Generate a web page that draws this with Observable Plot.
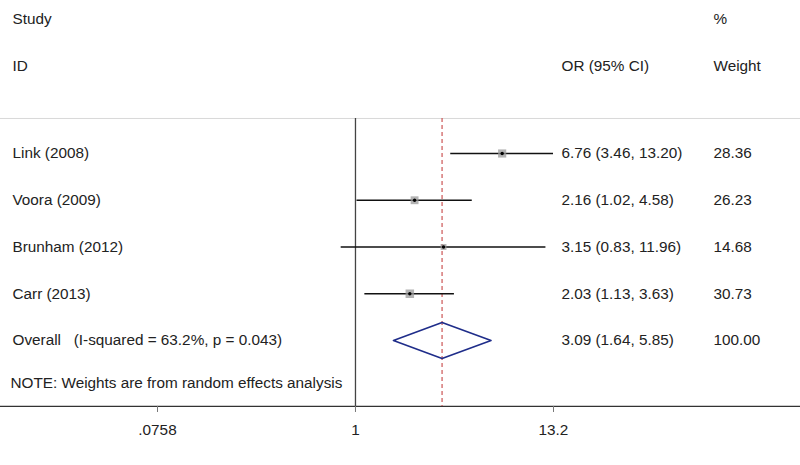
<!DOCTYPE html>
<html>
<head>
<meta charset="utf-8">
<script src="https://cdn.jsdelivr.net/npm/d3@7"></script>
<script src="https://cdn.jsdelivr.net/npm/@observablehq/plot@0.6"></script>
<style>
  html, body { margin: 0; padding: 0; background: #fff; }
  #chart svg { display: block; }
</style>
</head>
<body>
<div id="chart"></div>
<script>
// ---- data ----
const studies = ["Link (2008)", "Voora (2009)", "Brunham (2012)", "Carr (2013)"];
const orValues = [6.76, 2.16, 3.15, 2.03];
const ciLow = [3.46, 1.02, 0.83, 1.13];
const ciHigh = [13.20, 4.58, 11.96, 3.63];
const weights = [28.36, 26.23, 14.68, 30.73];
const overallLabel = "Overall\u00a0\u00a0 (I-squared = 63.2%, p = 0.043)";
const overallOR = 3.09;
const overallLow = 1.64;
const overallHigh = 5.85;
const overallWeight = 100.00;
const noteText = "NOTE: Weights are from random effects analysis";
const tickValues = [0.0758, 1, 13.2];
const tickLabels = [".0758", "1", "13.2"];

// ---- tables built from the arrays ----
const rows = studies.map((s, i) => ({
  row: i + 1,
  label: s,
  or: orValues[i],
  lo: ciLow[i],
  hi: ciHigh[i],
  weight: weights[i],
  orText: `${orValues[i].toFixed(2)} (${ciLow[i].toFixed(2)}, ${ciHigh[i].toFixed(2)})`,
  wText: weights[i].toFixed(2)
}));
const overallRow = {
  row: studies.length + 1,
  label: overallLabel,
  orText: `${overallOR.toFixed(2)} (${overallLow.toFixed(2)}, ${overallHigh.toFixed(2)})`,
  wText: overallWeight.toFixed(2)
};
const textRows = [...rows, overallRow];
const dh = 0.385; // diamond half-height in row units
const diamond = [
  {x: overallLow, y: overallRow.row},
  {x: overallOR, y: overallRow.row - dh},
  {x: overallHigh, y: overallRow.row},
  {x: overallOR, y: overallRow.row + dh},
  {x: overallLow, y: overallRow.row}
];
const ticks = tickValues.map((v, i) => ({v, label: tickLabels[i]}));

const yTop = 0.251, yBottom = 6.41, yNote = 5.92;
const txt = "#222";
const fs = 15.3;

const chart = Plot.plot({
  width: 800,
  height: 465,
  marginTop: 0,
  marginLeft: 0,
  marginRight: 0,
  marginBottom: 59,
  style: {fontFamily: "'Liberation Sans', Arial, sans-serif", fontSize: fs + "px", background: "#fff", color: txt},
  x: {type: "log", domain: [0.0758, 13.2], range: [157, 553], axis: null},
  y: {domain: [0, 6], range: [106.25, 386.75], axis: null},
  r: {domain: [0, 30.73], range: [0, 4.8]},
  marks: [
    // faint top border
    Plot.ruleY([yTop], {stroke: "#d8d8d8", strokeWidth: 1}),
    // axis line, ticks and tick labels
    Plot.ruleY([yBottom], {stroke: "#333", strokeWidth: 1.2}),
    Plot.ruleX(ticks, {x: "v", y1: yBottom, y2: yBottom + 0.13, stroke: "#777"}),
    Plot.text(ticks, {x: "v", y: yBottom + 0.5, text: "label", fill: txt}),
    // null line
    Plot.ruleX([1], {y1: yTop, y2: yBottom, stroke: "#444", strokeWidth: 1.3}),
    // overall dashed line
    Plot.ruleX([overallOR], {y1: yTop, y2: yBottom, stroke: "#cc5555", strokeWidth: 1.2, strokeDasharray: "4,3"}),
    // CIs
    Plot.ruleY(rows, {y: "row", x1: "lo", x2: "hi", stroke: "#111", strokeWidth: 1.3}),
    // weight squares
    Plot.dot(rows, {x: "or", y: "row", r: "weight", symbol: "square", fill: "#9a9a9a", fillOpacity: 0.75, stroke: "none"}),
    Plot.dot(rows, {x: "or", y: "row", r: 1.7, fill: "#000", stroke: "none"}),
    // diamond
    Plot.line(diamond, {x: "x", y: "y", stroke: "#1f2d8a", strokeWidth: 1.6, curve: "linear"}),
    // headers
    Plot.text(["Study"], {frameAnchor: "top-left", dx: 12, dy: 13, textAnchor: "start", fill: txt}),
    Plot.text(["ID"], {frameAnchor: "top-left", dx: 12, dy: 60, textAnchor: "start", fill: txt}),
    Plot.text(["OR (95% CI)"], {frameAnchor: "top-left", dx: 561, dy: 60, textAnchor: "start", fill: txt}),
    Plot.text(["%"], {frameAnchor: "top-left", dx: 713, dy: 13, textAnchor: "start", fill: txt}),
    Plot.text(["Weight"], {frameAnchor: "top-left", dx: 713, dy: 60, textAnchor: "start", fill: txt}),
    // row texts
    Plot.text(textRows, {y: "row", text: "label", frameAnchor: "left", dx: 12, textAnchor: "start", fill: txt}),
    Plot.text(textRows, {y: "row", text: "orText", frameAnchor: "left", dx: 561, textAnchor: "start", fill: txt}),
    Plot.text(textRows, {y: "row", text: "wText", frameAnchor: "left", dx: 713, textAnchor: "start", fill: txt}),
    Plot.text([noteText], {y: [yNote], frameAnchor: "left", dx: 10, textAnchor: "start", fill: txt})
  ]
});
document.getElementById("chart").appendChild(chart);
</script>
</body>
</html>
